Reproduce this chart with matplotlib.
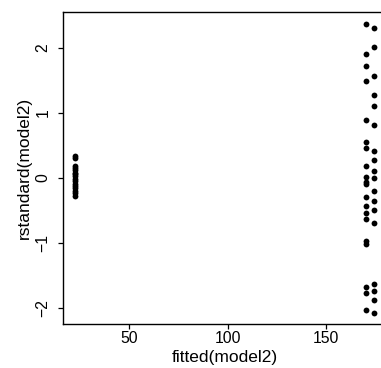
import matplotlib
matplotlib.use("Agg")
import matplotlib.pyplot as plt

# fitted values and standardized residuals for the three groups
fit_low = 22.6
res_low = [0.34, 0.31, 0.18, 0.15, 0.12, 0.08, 0.05, 0.02, -0.02, -0.05,
           -0.09, -0.12, -0.16, -0.20, -0.24, -0.28]

fit_mid = 170.2
res_mid = [2.364, 1.897, 1.718, 1.487, 0.882, 0.544, 0.462, 0.185, 0.015,
           -0.062, -0.103, -0.292, -0.431, -0.538, -0.636, -0.974, -1.015,
           -1.677, -1.769, -2.031]

fit_high = 174.6
res_high = [2.303, 2.005, 1.569, 1.272, 1.097, 0.815, 0.410, 0.272, 0.097,
            0.0, -0.200, -0.359, -0.492, -0.692, -1.631, -1.749, -1.887,
            -2.082]

xticks = [50, 100, 150]
yticks = [-2, -1, 0, 1, 2]

plt.rcParams["font.family"] = ["Liberation Sans", "DejaVu Sans"]
fs_label = 12.5
fs_tick = 11.3

fig = plt.figure(figsize=(3.81, 3.68), dpi=100)
ax = fig.add_axes([0.1654, 0.1196, 0.849, 0.847])

for fx, res in [(fit_low, res_low), (fit_mid, res_mid), (fit_high, res_high)]:
    ax.plot([fx] * len(res), res, "o", color="black", markersize=4.2,
            markeredgewidth=0, linestyle="none")

ax.set_xlim(16.3, 180.7)
ax.set_ylim(-2.25, 2.545)
ax.set_xticks(xticks)
ax.set_yticks(yticks)
ax.set_yticklabels(["\u22122", "\u22121", "0", "1", "2"], rotation=90,
                   va="center", ha="right")
ax.tick_params(direction="out", length=3.8, width=0.9, labelsize=fs_tick)
ax.tick_params(axis="x", pad=1.0)
ax.tick_params(axis="y", pad=5.3)
for s in ax.spines.values():
    s.set_linewidth(1.0)

ax.set_xlabel("fitted(model2)", fontsize=fs_label, labelpad=3)
ax.set_ylabel("rstandard(model2)", fontsize=fs_label, va="center")
ax.yaxis.set_label_coords(-0.1206, 0.5)

fig.savefig("out.png", dpi=100)
